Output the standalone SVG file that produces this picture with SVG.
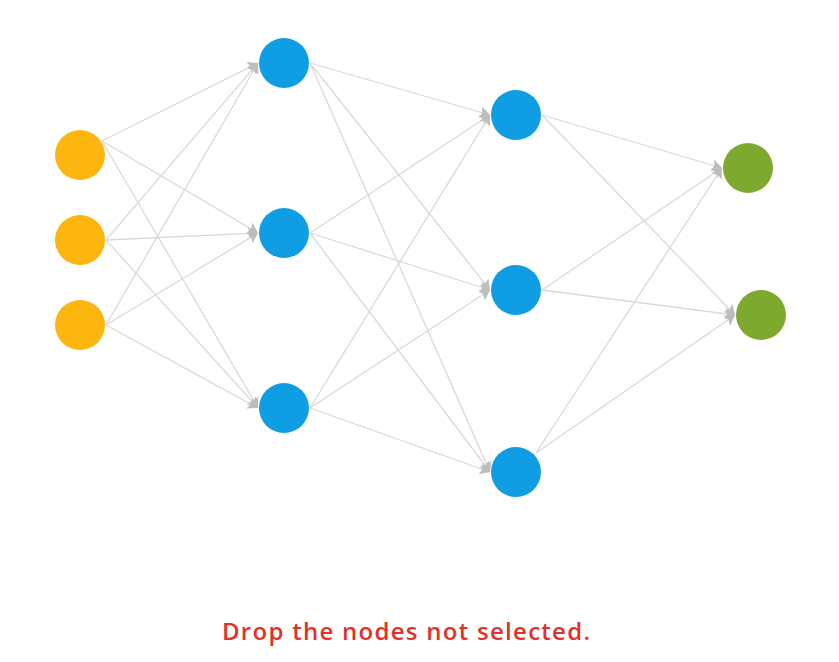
<svg xmlns="http://www.w3.org/2000/svg" width="839" height="662" viewBox="0 0 839 662">
<style>
.c line{stroke:#d9d9d9;stroke-width:1.3;fill:none;marker-end:url(#arr)}
.in{fill:#FDB50F}
.hid{fill:#0F9EE3}
.out{fill:#7DAA2E}
.lbl{font-family:"Open Sans","Liberation Sans",sans-serif;font-size:24px;font-weight:600;fill:#E1322A}
</style>
<defs>
<marker id="arr" markerUnits="userSpaceOnUse" viewBox="0 -8 14 16" markerWidth="14" markerHeight="16" refX="10" refY="0" orient="auto">
<path d="M0,-6 L10,0 L0,6 L2,0 Z" fill="#bdbdbd"/>
</marker>
</defs>
<rect width="839" height="662" fill="#ffffff"/>
<g id="connectors" class="c">
<line x1="102" y1="141" x2="258" y2="63"/>
<line x1="102" y1="141" x2="258" y2="233"/>
<line x1="102" y1="141" x2="258" y2="408"/>
<line x1="106" y1="240" x2="258" y2="63"/>
<line x1="106" y1="240" x2="258" y2="233"/>
<line x1="106" y1="240" x2="258" y2="408"/>
<line x1="106" y1="325" x2="258" y2="63"/>
<line x1="106" y1="325" x2="258" y2="233"/>
<line x1="106" y1="325" x2="258" y2="408"/>
<line x1="310" y1="63" x2="490" y2="115"/>
<line x1="310" y1="63" x2="490" y2="290"/>
<line x1="310" y1="63" x2="490" y2="472"/>
<line x1="310" y1="233" x2="490" y2="115"/>
<line x1="310" y1="233" x2="490" y2="290"/>
<line x1="310" y1="233" x2="490" y2="472"/>
<line x1="310" y1="408" x2="490" y2="115"/>
<line x1="310" y1="408" x2="490" y2="290"/>
<line x1="310" y1="408" x2="490" y2="472"/>
<line x1="542" y1="115" x2="722" y2="168"/>
<line x1="542" y1="115" x2="735" y2="315"/>
<line x1="542" y1="290" x2="722" y2="168"/>
<line x1="542" y1="290" x2="735" y2="315"/>
<line x1="536" y1="453" x2="722" y2="168"/>
<line x1="536" y1="453" x2="735" y2="315"/>
</g>
<g id="input1"><circle class="in" cx="80" cy="155" r="25"/></g>
<g id="input2"><circle class="in" cx="80" cy="240" r="25"/></g>
<g id="input3"><circle class="in" cx="80" cy="325" r="25"/></g>
<g id="hidden1a"><circle class="hid" cx="284" cy="63" r="25"/></g>
<g id="hidden1b"><circle class="hid" cx="284" cy="233" r="25"/></g>
<g id="hidden1c"><circle class="hid" cx="284" cy="408" r="25"/></g>
<g id="hidden2a"><circle class="hid" cx="516" cy="115" r="25"/></g>
<g id="hidden2b"><circle class="hid" cx="516" cy="290" r="25"/></g>
<g id="hidden2c"><circle class="hid" cx="516" cy="472" r="25"/></g>
<g id="output1"><circle class="out" cx="748" cy="168" r="25"/></g>
<g id="output2"><circle class="out" cx="761" cy="315" r="25"/></g>
<g id="caption"><text class="lbl" x="406" y="640" text-anchor="middle" textLength="368" lengthAdjust="spacing">Drop the nodes not selected.</text></g>
</svg>
